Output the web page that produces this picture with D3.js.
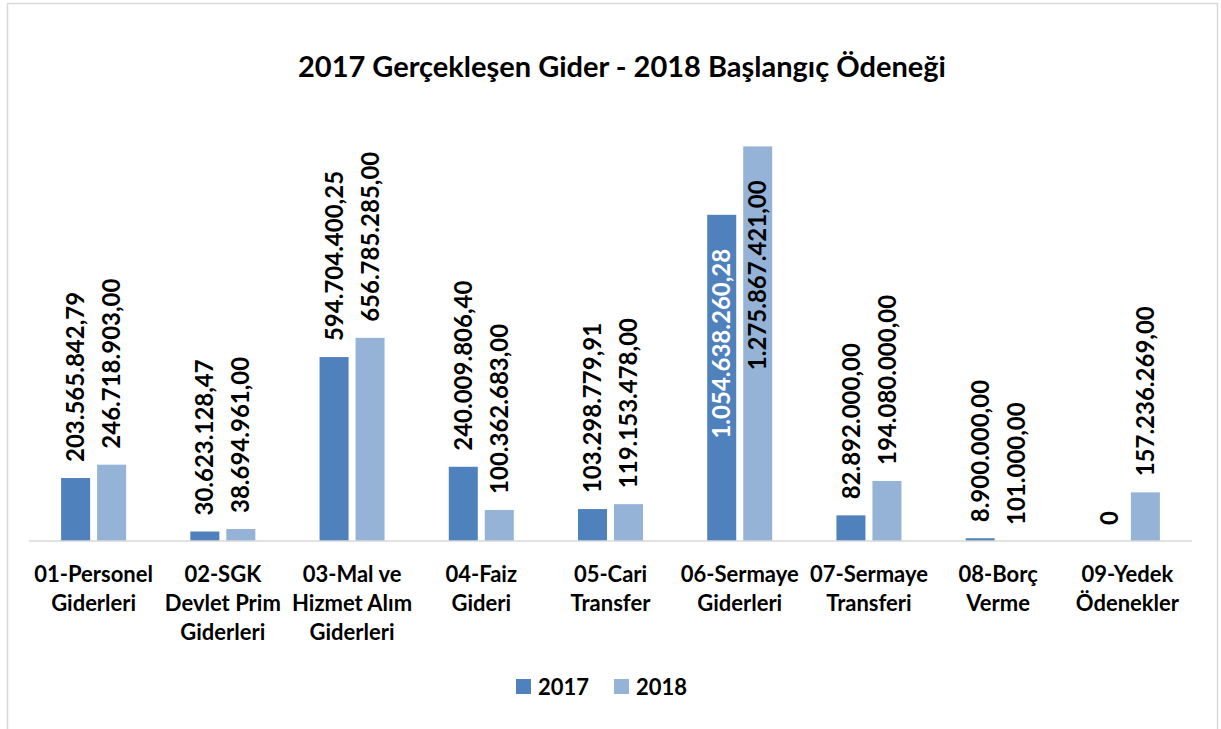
<!DOCTYPE html>
<html>
<head>
<meta charset="utf-8">
<script src="https://cdn.jsdelivr.net/npm/d3@7"></script>
<style>
  body { margin: 0; background: #fff; }
  text { font-family: Lato, "Open Sans", sans-serif; font-weight: bold; }
</style>
</head>
<body>
<div id="chart"></div>
<script>
var categories = [
    ["01-Personel", "Giderleri"],
    ["02-SGK", "Devlet Prim", "Giderleri"],
    ["03-Mal ve", "Hizmet Alım", "Giderleri"],
    ["04-Faiz", "Gideri"],
    ["05-Cari", "Transfer"],
    ["06-Sermaye", "Giderleri"],
    ["07-Sermaye", "Transferi"],
    ["08-Borç", "Verme"],
    ["09-Yedek", "Ödenekler"]
];
var series = ["2017", "2018"];
var values2017 = [203565842.79, 30623128.47, 594704400.25, 240009806.40, 103298779.91, 1054638260.28, 82892000.00, 8900000.00, 0];
var values2018 = [246718903.00, 38694961.00, 656785285.00, 100362683.00, 119153478.00, 1275867421.00, 194080000.00, 101000.00, 157236269.00];
var title = "2017 Gerçekleşen Gider - 2018 Başlangıç Ödeneği";

var colors = {"2017": "#4f81bd", "2018": "#95b3d7"};

var trLocale = d3.formatLocale({decimal: ",", thousands: ".", grouping: [3], currency: ["", ""]});
var fmt = trLocale.format(",.2f");
function label(v) { return v === 0 ? "0" : fmt(v); }

var width = 1221, height = 729;

var svg = d3.select("#chart").append("svg")
    .attr("width", width)
    .attr("height", height);

// outer frame
svg.append("rect")
    .attr("x", 7.5).attr("y", 3.5)
    .attr("width", 1210).attr("height", 740)
    .attr("fill", "#fff")
    .attr("stroke", "#d9d9d9")
    .attr("stroke-width", 1.5);

svg.append("text")
    .attr("x", 622)
    .attr("y", 77)
    .attr("text-anchor", "middle")
    .attr("font-size", "29px")
    .text(title);

var keys = categories.map(function(d, i) { return "c" + i; });

var x0 = d3.scaleBand()
    .domain(keys)
    .range([29, 1192]);

var x1 = d3.scaleBand()
    .domain(series)
    .range([x0.bandwidth() / 2 - 32.5, x0.bandwidth() / 2 + 32.5])
    .paddingInner(0.194);

var y = d3.scaleLinear()
    .domain([0, 1400000000])
    .range([541, 108]);

var data = [];
categories.forEach(function(c, i) {
    data.push({key: keys[i], s: "2017", v: values2017[i]});
    data.push({key: keys[i], s: "2018", v: values2018[i]});
});

var g = svg.append("g");

g.selectAll(".bar")
    .data(data)
    .enter()
    .append("rect")
    .attr("class", "bar")
    .attr("x", function(d) { return x0(d.key) + x1(d.s); })
    .attr("y", function(d) { return y(d.v); })
    .attr("width", x1.bandwidth())
    .attr("height", function(d) { return y(0) - y(d.v); })
    .attr("fill", function(d) { return colors[d.s]; });

// labels: the two tallest bars carry them inside the bar end
var insideLimit = 1000000000;
g.selectAll(".lbl")
    .data(data)
    .enter()
    .append("text")
    .attr("class", "lbl")
    .attr("transform", function(d) {
        var cx = x0(d.key) + x1(d.s) + x1.bandwidth() / 2;
        var yy = d.v > insideLimit ? y(d.v) + 34 : y(d.v) - 16;
        return "translate(" + cx + "," + yy + ") rotate(-90)";
    })
    .attr("dy", "0.36em")
    .attr("text-anchor", function(d) { return d.v > insideLimit ? "end" : "start"; })
    .attr("font-size", "24px")
    .attr("fill", function(d) { return (d.v > insideLimit && d.s === "2017") ? "#fff" : "#000"; })
    .text(function(d) { return label(d.v); });

// axis line
svg.append("line")
    .attr("x1", 29).attr("x2", 1192)
    .attr("y1", 541).attr("y2", 541)
    .attr("stroke", "#d9d9d9")
    .attr("stroke-width", 1.5);

var xAxis = d3.axisBottom(x0).tickSize(0).tickFormat("");
svg.append("g")
    .attr("transform", "translate(0,541)")
    .call(xAxis)
    .call(function(a) { a.select(".domain").remove(); });

var catLabels = svg.append("g").selectAll(".cat")
    .data(categories)
    .enter()
    .append("text")
    .attr("class", "cat")
    .attr("x", function(d, i) { return x0(keys[i]) + x0.bandwidth() / 2; })
    .attr("y", 582)
    .attr("text-anchor", "middle")
    .attr("font-size", "22px");

catLabels.selectAll("tspan")
    .data(function(d) { return d; })
    .enter()
    .append("tspan")
    .attr("x", function() { return d3.select(this.parentNode).attr("x"); })
    .attr("dy", function(d, i) { return i === 0 ? 0 : 29; })
    .text(function(d) { return d; });

// legend
var legendX = [516, 614];
var legend = svg.append("g").selectAll(".leg")
    .data(series)
    .enter()
    .append("g")
    .attr("transform", function(d, i) { return "translate(" + legendX[i] + ",679)"; });

legend.append("rect")
    .attr("width", 15).attr("height", 15)
    .attr("fill", function(d) { return colors[d]; });

legend.append("text")
    .attr("x", 22)
    .attr("y", 16)
    .attr("font-size", "22px")
    .text(function(d) { return d; });
</script>
</body>
</html>
